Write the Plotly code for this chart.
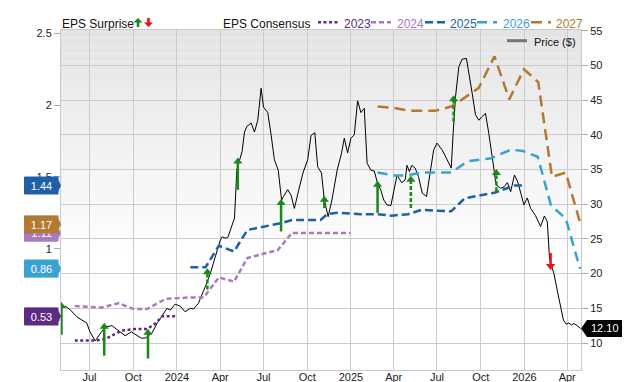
import plotly.graph_objects as go

# ---------------- data ----------------
price_dates = ["2023-05-03","2023-05-11","2023-05-22","2023-06-04","2023-06-15","2023-06-25","2023-07-02","2023-07-13","2023-07-23","2023-08-03",
"2023-08-17","2023-08-31","2023-09-14","2023-09-27","2023-10-05","2023-10-18","2023-10-26","2023-11-09","2023-11-20","2023-11-30",
"2023-12-11","2023-12-18","2023-12-28","2024-01-08","2024-01-18","2024-01-29","2024-02-05","2024-02-15","2024-02-23","2024-03-01",
"2024-03-11","2024-03-22","2024-04-01","2024-04-05","2024-04-12","2024-04-17","2024-04-26","2024-05-01","2024-05-06","2024-05-12",
"2024-05-17","2024-05-22","2024-05-27","2024-06-05","2024-06-12","2024-06-19","2024-06-26","2024-07-01","2024-07-10","2024-07-17",
"2024-07-24","2024-08-01","2024-08-08","2024-08-12","2024-08-21","2024-08-28","2024-09-04","2024-09-13","2024-09-22","2024-10-02",
"2024-10-09","2024-10-17","2024-10-23","2024-10-31","2024-11-06","2024-11-14","2024-11-22","2024-12-03","2024-12-12","2024-12-18",
"2024-12-25","2025-01-01","2025-01-08","2025-01-15","2025-01-22","2025-01-29","2025-02-04","2025-02-12","2025-02-19","2025-02-26",
"2025-03-05","2025-03-11","2025-03-18","2025-03-26","2025-04-01","2025-04-08","2025-04-13","2025-04-18","2025-04-25","2025-04-29",
"2025-05-04","2025-05-09","2025-05-16","2025-05-23","2025-05-31","2025-06-09","2025-06-17","2025-06-24","2025-07-01","2025-07-12",
"2025-07-21","2025-07-31","2025-08-04","2025-08-09","2025-08-16","2025-08-23","2025-09-01","2025-09-06","2025-09-13","2025-09-20",
"2025-09-27","2025-10-04","2025-10-11","2025-10-18","2025-10-25","2025-10-29","2025-11-02","2025-11-12","2025-11-19","2025-11-26",
"2025-12-03","2025-12-11","2025-12-18","2025-12-24","2025-12-31","2026-01-07","2026-01-14","2026-01-24","2026-02-04","2026-02-12",
"2026-02-18","2026-02-23","2026-03-04","2026-03-11","2026-03-18","2026-03-24","2026-03-30","2026-04-04","2026-04-10","2026-04-15",
"2026-04-22","2026-04-29"]
price_vals = [15.1,15.3,14.75,13.8,13.3,12.9,11.6,10.3,11.3,12.3,
12.5,11.8,11.05,11.6,11.3,10.7,10.7,11.4,12.8,13.8,
15.0,14.75,15.6,15.3,14.5,15.0,14.9,15.7,16.9,18.2,
20.0,22.4,24.8,25.3,25.1,25.2,27.2,28.0,35.0,36.4,
37.6,40.4,41.2,41.7,40.4,42.1,46.7,44.0,43.2,40.0,
36.4,34.9,30.6,31.1,32.1,31.3,29.4,32.0,34.5,36.4,
39.9,40.3,35.4,34.5,30.6,28.2,30.6,34.9,37.3,39.5,
37.4,39.5,40.0,44.9,43.2,43.8,35.9,34.9,34.8,33.0,
32.0,30.6,29.9,29.8,31.8,34.2,33.6,33.1,33.5,35.6,
34.7,35.6,35.2,34.0,31.6,31.1,34.7,37.8,38.8,37.8,
36.6,35.2,40.2,45.5,49.8,50.9,51.0,49.1,46.0,42.9,
42.1,42.6,43.1,40.2,37.1,35.0,32.8,32.3,32.5,33.1,
31.8,34.2,33.2,31.6,29.9,30.9,29.4,28.4,26.8,28.3,
27.5,22.0,20.0,17.6,15.2,13.3,12.7,12.9,12.6,12.8,
12.5,12.1]
last_price_label = "12.10"

eps2023_dates = ["2023-05-31","2023-07-13","2023-08-03","2023-08-20","2023-09-07","2023-10-05","2023-10-30","2023-11-17","2023-12-01","2023-12-29"]
eps2023_vals = [0.36,0.36,0.37,0.40,0.43,0.44,0.44,0.48,0.53,0.53]

eps2024_dates = ["2023-05-31","2023-07-27","2023-08-31","2023-10-02","2023-10-30","2023-12-08","2024-01-26","2024-02-26","2024-03-29","2024-04-30","2024-05-28","2024-07-31","2024-08-30","2024-12-31"]
eps2024_vals = [0.60,0.59,0.62,0.58,0.58,0.65,0.66,0.66,0.80,0.77,0.935,0.99,1.11,1.11]

eps2025_dates = ["2024-01-29","2024-03-01","2024-03-29","2024-04-30","2024-05-28","2024-08-10","2024-08-30","2024-10-29","2024-11-12","2024-12-03","2025-01-22","2025-02-26","2025-03-27","2025-05-01","2025-05-29","2025-07-31","2025-08-28","2025-10-30","2025-12-11","2025-12-30"]
eps2025_vals = [0.87,0.87,1.02,0.98,1.13,1.18,1.20,1.20,1.24,1.25,1.24,1.24,1.23,1.24,1.27,1.26,1.35,1.39,1.44,1.44]

eps2026_dates = ["2025-02-26","2025-04-01","2025-04-29","2025-05-28","2025-07-31","2025-09-04","2025-10-23","2025-12-04","2025-12-29","2026-01-29","2026-02-26","2026-03-29","2026-04-28"]
eps2026_vals = [1.53,1.51,1.51,1.53,1.53,1.61,1.63,1.69,1.68,1.64,1.30,1.21,0.86]

eps2027_dates = ["2025-02-26","2025-04-01","2025-05-05","2025-06-27","2025-07-31","2025-08-19","2025-09-27","2025-10-30","2025-11-30","2025-12-31","2026-01-30","2026-02-28","2026-03-29","2026-04-29"]
eps2027_vals = [1.99,1.98,1.96,1.96,1.99,2.03,2.12,2.34,2.04,2.25,2.16,1.50,1.53,1.17]

surprise_dates = ["2023-05-03","2023-08-01","2023-11-01","2024-03-05","2024-05-08","2024-08-07","2024-11-06","2025-02-26","2025-05-07","2025-08-05","2025-11-03","2026-02-25"]
surprise_est = [0.40,0.255,0.235,0.715,1.41,1.12,1.283,1.249,1.283,1.886,1.40,0.97]
surprise_act = [0.60,0.457,0.415,0.835,1.607,1.318,1.34,1.445,1.48,2.04,1.527,0.88]
surprise_dashed = [False,False,False,True,False,False,False,False,True,True,True,False]

x_tick_vals = ["2023-07-01","2023-10-01","2024-01-01","2024-04-01","2024-07-01","2024-10-01","2025-01-01","2025-04-01","2025-07-01","2025-10-01","2026-01-01","2026-04-01"]
x_tick_text = ["Jul","Oct","2024","Apr","Jul","Oct","2025","Apr","Jul","Oct","2026","Apr"]
eps_ticks = [0.5, 1, 1.5, 2, 2.5]
eps_tick_text = ["0.5", "1", "1.5", "2", "2.5"]
price_ticks = [10, 15, 20, 25, 30, 35, 40, 45, 50, 55]
year_labels = ["2023", "2024", "2025", "2026", "2027"]

# ---------------- styles ----------------
FONT = "Liberation Sans, Arial, sans-serif"
C23, C24, C25, C26, C27 = "#5c2b84", "#a77bbd", "#1f5fa8", "#3ba2d0", "#b17a30"
GREEN, RED = "#178a17", "#ee1111"
W, H = 640, 382
L, R, T, B = 61, 581, 30, 370

def PX(x):
    return (x - L) / (R - L)

def PY(y):
    return (B - y) / (B - T)

fig = go.Figure()

series = [
    (eps2023_dates, eps2023_vals, C23, "3px,2.5px"),
    (eps2024_dates, eps2024_vals, C24, "5px,3px"),
    (eps2025_dates, eps2025_vals, C25, "8px,4px"),
    (eps2026_dates, eps2026_vals, C26, "10px,6px"),
    (eps2027_dates, eps2027_vals, C27, "11px,6px"),
]

fig.add_trace(go.Scatter(x=price_dates, y=price_vals, mode="lines", yaxis="y",
                         line=dict(color="#000000", width=1), hoverinfo="skip"))

for d, v, c, dash in series:
    fig.add_trace(go.Scatter(x=d, y=v, mode="lines", yaxis="y2",
                             line=dict(color=c, width=2.5, dash=dash), hoverinfo="skip"))

# surprise arrows
for dashed in (False, True):
    for beat, col in ((True, GREEN), (False, RED)):
        xs, ys = [], []
        for dt, e, a, ds in zip(surprise_dates, surprise_est, surprise_act, surprise_dashed):
            if ds == dashed and (a >= e) == beat:
                xs += [dt, dt, None]
                ys += [e, a, None]
        if xs:
            fig.add_trace(go.Scatter(x=xs, y=ys, mode="lines", yaxis="y2",
                                     line=dict(color=col, width=2.5, dash="4px,2px" if dashed else "solid"),
                                     hoverinfo="skip"))
for beat, col, sym in ((True, GREEN, "triangle-up"), (False, RED, "triangle-down")):
    xs = [dt for dt, e, a in zip(surprise_dates, surprise_est, surprise_act) if (a >= e) == beat]
    ys = [a for dt, e, a in zip(surprise_dates, surprise_est, surprise_act) if (a >= e) == beat]
    fig.add_trace(go.Scatter(x=xs, y=ys, mode="markers", yaxis="y2",
                             marker=dict(symbol=sym, size=8, color=col, line=dict(width=0)),
                             hoverinfo="skip"))

shapes = []
# background gradient
n = 30
top_p, bot_p = 1.0, PY(265)
for i in range(n):
    y1 = top_p - (top_p - bot_p) * i / n
    y0 = top_p - (top_p - bot_p) * (i + 1) / n
    g = int(round(228 + (255 - 228) * (i + 0.5) / n))
    shapes.append(dict(type="rect", xref="paper", yref="paper", x0=0, x1=1, y0=y0, y1=y1,
                       fillcolor=f"rgb({g},{g},{g})", line=dict(width=0), layer="below"))

annotations = []

# legend: EPS Surprise
annotations.append(dict(text="EPS Surprise", xref="paper", yref="paper", x=PX(60), y=PY(23.5),
                        xanchor="left", yanchor="middle", showarrow=False,
                        font=dict(family=FONT, size=12, color="#111")))
def arrow_path(cx, y_tip, up):
    s = -1 if up else 1
    yb = y_tip - s * 9
    ym = y_tip - s * 4.5
    pts = [(cx, y_tip), (cx + 4.5, ym), (cx + 1.3, ym), (cx + 1.3, yb), (cx - 1.3, yb), (cx - 1.3, ym), (cx - 4.5, ym)]
    return "M " + " L ".join(f"{PX(x):.5f},{PY(y):.5f}" for x, y in pts) + " Z"
shapes.append(dict(type="path", xref="paper", yref="paper", path=arrow_path(138, 18, True),
                   fillcolor=GREEN, line=dict(width=0)))
shapes.append(dict(type="path", xref="paper", yref="paper", path=arrow_path(148.5, 27, False),
                   fillcolor=RED, line=dict(width=0)))

annotations.append(dict(text="EPS Consensus", xref="paper", yref="paper", x=PX(221), y=PY(23.5),
                        xanchor="left", yanchor="middle", showarrow=False,
                        font=dict(family=FONT, size=12, color="#111")))
leg_pos = [(318, 338, 342), (371, 391, 395), (425, 445, 448), (477, 497, 501), (531, 551, 554)]
for (x0, x1, xt), (d, v, c, dash), lab in zip(leg_pos, series, year_labels):
    shapes.append(dict(type="line", xref="paper", yref="paper", x0=PX(x0), x1=PX(x1), y0=PY(22.3), y1=PY(22.3),
                       line=dict(color=c, width=2.5, dash=dash)))
    annotations.append(dict(text=lab, xref="paper", yref="paper", x=PX(xt), y=PY(23.5),
                            xanchor="left", yanchor="middle", showarrow=False,
                            font=dict(family=FONT, size=12, color=c)))

# Price legend
shapes.append(dict(type="line", xref="paper", yref="paper", x0=PX(507), x1=PX(527), y0=PY(40.7), y1=PY(40.7),
                   line=dict(color="#777777", width=3)))
annotations.append(dict(text="Price ($)", xref="paper", yref="paper", x=PX(532), y=PY(41.5),
                        xanchor="left", yanchor="middle", showarrow=False,
                        font=dict(family=FONT, size=11, color="#111")))

# left value tags (last consensus of each year)
tags = [(eps2023_vals[-1], C23), (eps2026_vals[-1], C26), (eps2024_vals[-1], C24),
        (eps2027_vals[-1], C27), (eps2025_vals[-1], C25)]
for val, col in tags:
    shapes.append(dict(type="path", xref="paper", yref="y2", xsizemode="pixel", ysizemode="pixel",
                       xanchor=0, yanchor=val,
                       path="M -37,-8.5 L -4,-8.5 L 0,0 L -4,8.5 L -37,8.5 Z",
                       fillcolor=col, line=dict(width=0)))
for val, col in tags:
    annotations.append(dict(text=f"{val:.2f}", xref="paper", yref="y2", x=PX(41.5), y=val,
                            xanchor="center", yanchor="middle", showarrow=False,
                            width=33, height=17, borderpad=0, bgcolor=col,
                            font=dict(family=FONT, size=11, color="#ffffff")))

# right price tag
shapes.append(dict(type="path", xref="paper", yref="y", xsizemode="pixel", ysizemode="pixel",
                   xanchor=1, yanchor=price_vals[-1],
                   path="M 0,0 L 6,8.5 L 41,8.5 L 41,-8.5 L 6,-8.5 Z",
                   fillcolor="#000000", line=dict(width=0)))
annotations.append(dict(text=last_price_label, xref="paper", yref="y", x=PX(604.5), y=price_vals[-1],
                        xanchor="center", yanchor="middle", showarrow=False,
                        font=dict(family=FONT, size=11, color="#ffffff")))

fig.update_layout(
    width=W, height=H,
    margin=dict(l=L, r=W - R, t=T, b=H - B, autoexpand=False),
    paper_bgcolor="#ffffff", plot_bgcolor="#ffffff",
    showlegend=False,
    font=dict(family=FONT, size=11, color="#222"),
    xaxis=dict(type="date", range=["2023-05-02", "2026-04-30"],
               tickvals=x_tick_vals, ticktext=x_tick_text, ticks="",
               ticklabelstandoff=-3,
               showgrid=True, gridcolor="#cccccc", gridwidth=1,
               showline=True, linecolor="#c8c8c8", linewidth=1, mirror=True,
               tickfont=dict(family=FONT, size=11, color="#222"), fixedrange=True),
    yaxis=dict(side="right", range=[6.11, 55.1], tickvals=price_ticks,
               ticks="outside", ticklen=6, tickcolor="#aaaaaa",
               showgrid=True, gridcolor="#cccccc", gridwidth=1, zeroline=False,
               showline=True, linecolor="#c8c8c8", linewidth=1,
               tickfont=dict(family=FONT, size=11, color="#222")),
    yaxis2=dict(side="left", overlaying="y", range=[0.155, 2.523], tickvals=eps_ticks, ticktext=eps_tick_text,
                ticks="outside", ticklen=6, tickcolor="#aaaaaa",
                showgrid=False, zeroline=False,
                showline=True, linecolor="#c8c8c8", linewidth=1,
                tickfont=dict(family=FONT, size=11, color="#222")),
    shapes=shapes,
    annotations=annotations,
)

fig.write_html("out.html", config={"displayModeBar": False},
               post_script="document.body.style.margin='0';document.body.style.padding='0';document.body.style.overflow='hidden';")
